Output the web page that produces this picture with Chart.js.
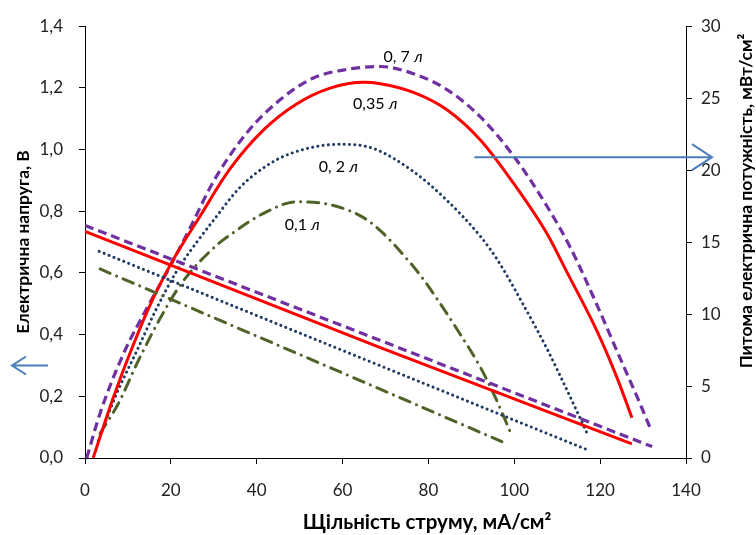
<!DOCTYPE html>
<html>
<head>
<meta charset="utf-8">
<script src="https://cdn.jsdelivr.net/npm/chart.js"></script>
<style>
  html, body { margin: 0; padding: 0; background: white; }
  canvas { display: block; }
</style>
</head>
<body>
<canvas id="chart" width="756" height="535"></canvas>
<script>
// напруга (ліва вісь), В
const iV07 = [0, 68.8, 132.1];
const uV07 = [0.754, 0.381, 0.037];
const iV035 = [0, 68.8, 127.4];
const uV035 = [0.735, 0.358, 0.046];
const iV02 = [3.3, 68.8, 116.6];
const uV02 = [0.670, 0.299, 0.029];
const iV01 = [3.5, 66.8, 97.1];
const uV01 = [0.613, 0.235, 0.053];

// питома потужність (права вісь), мВт/см2
const iP07 = [0.4, 3.5, 8.9, 14.4, 19.8, 24.5, 29.9, 37.7, 45.5, 53.2, 61.0, 68.8, 76.5, 84.3, 92.1, 99.8, 107.6, 113.1, 119.3, 124.7, 129.4, 131.9];
const pP07 = [0, 3.1, 7.2, 10.4, 13.3, 16.0, 19.2, 22.6, 24.9, 26.4, 27.0, 27.2, 26.7, 25.6, 23.7, 21.0, 17.5, 14.6, 10.6, 6.9, 3.7, 1.9];
const iP035 = [1.9, 6.6, 11.3, 15.9, 20.6, 26.8, 33.8, 41.6, 49.3, 57.1, 64.9, 68.8, 76.5, 84.3, 92.1, 99.8, 107.6, 112.3, 119.3, 123.9, 127.4];
const pP035 = [0, 4.2, 7.9, 11.1, 13.8, 16.8, 20.1, 22.8, 24.6, 25.7, 26.1, 26.0, 25.4, 24.2, 22.1, 19.1, 15.6, 12.9, 8.8, 5.6, 2.8];
const iP02 = [3.1, 7.4, 12.0, 16.7, 21.4, 26.8, 29.9, 36.1, 43.9, 51.7, 59.4, 67.2, 76.5, 84.3, 92.1, 96.0, 102.2, 107.6, 112.3, 117.3];
const pP02 = [1.2, 4.5, 7.4, 10.4, 13.0, 15.3, 16.5, 18.8, 20.6, 21.5, 21.8, 21.5, 19.9, 17.9, 15.4, 13.8, 10.6, 7.6, 4.7, 1.5];
const iP01 = [3.5, 7.8, 12.0, 17.5, 22.9, 31.1, 33.8, 41.6, 49.3, 57.1, 64.9, 69.5, 72.7, 78.1, 82.8, 87.4, 92.1, 95.6, 99.5];
const pP01 = [1.7, 3.8, 6.5, 9.7, 12.3, 14.9, 15.5, 17.0, 17.8, 17.6, 16.7, 15.6, 14.6, 12.7, 10.7, 8.6, 6.3, 4.2, 1.5];

const curveLabels = ['0, 7 ', '0,35 ', '0, 2 ', '0,1 '];
const labelI = [74.1, 67.6, 59.0, 50.6];
const labelP = [27.9, 24.6, 20.2, 16.2];

const xTicks = [0, 20, 40, 60, 80, 100, 120, 140];

const PURPLE = '#7030A0', RED = '#FF0000', NAVY = '#1F3B63', OLIVE = '#4F6228', ARROW = '#4A7EBB';
const FONT = 'Lato, "Open Sans", sans-serif';

const pts = (xs, ys) => xs.map((x, k) => ({x, y: ys[k]}));

const styles = {
  p07: {borderColor: PURPLE, borderWidth: 3.2, borderDash: [9, 5]},
  p035: {borderColor: RED, borderWidth: 3},
  p02: {borderColor: NAVY, borderWidth: 3, borderDash: [0.1, 5.2], borderCapStyle: 'round'},
  p01: {borderColor: OLIVE, borderWidth: 3, borderDash: [11, 7, 0.1, 7], borderCapStyle: 'round'}
};

function ds(data, axis, st) {
  return Object.assign({data, yAxisID: axis, showLine: true, pointRadius: 0,
    cubicInterpolationMode: 'monotone', fill: false}, st);
}

// підбирає розмір шрифту під потрібну ширину підпису
function fitFont(ctx, text, width, weight) {
  ctx.font = weight + ' 20px ' + FONT;
  const size = 20 * width / ctx.measureText(text).width;
  ctx.font = weight + ' ' + size.toFixed(1) + 'px ' + FONT;
}

const decorations = {
  id: 'decorations',
  afterDatasetsDraw(chart) {
    const {ctx, chartArea: a, scales: {x, y, y1}} = chart;
    ctx.save();
    // підписи кривих
    ctx.fillStyle = '#000';
    ctx.textBaseline = 'middle';
    curveLabels.forEach((t, k) => {
      const px = x.getPixelForValue(labelI[k]);
      const py = y1.getPixelForValue(labelP[k]);
      ctx.font = '16px ' + FONT;
      const w1 = ctx.measureText(t).width;
      ctx.font = 'italic 16px ' + FONT;
      const w2 = ctx.measureText('л').width;
      let sx = px - (w1 + w2) / 2;
      ctx.font = '16px ' + FONT;
      ctx.fillText(t, sx, py);
      ctx.font = 'italic 16px ' + FONT;
      ctx.fillText('л', sx + w1, py);
    });

    // стрілки
    ctx.strokeStyle = ARROW;
    ctx.lineWidth = 2;
    const ry = y1.getPixelForValue(20.9);
    const rx0 = x.getPixelForValue(90.7);
    const rx1 = a.right + 26;
    ctx.beginPath();
    ctx.moveTo(rx0, ry); ctx.lineTo(rx1, ry);
    ctx.moveTo(rx1 - 20, ry - 13); ctx.lineTo(rx1, ry); ctx.lineTo(rx1 - 20, ry + 13);
    ctx.stroke();
    const ly = y.getPixelForValue(0.3);
    const lx0 = 12, lx1 = 48;
    ctx.beginPath();
    ctx.moveTo(lx1, ly); ctx.lineTo(lx0, ly);
    ctx.moveTo(lx0 + 14, ly - 9); ctx.lineTo(lx0, ly); ctx.lineTo(lx0 + 14, ly + 9);
    ctx.stroke();

    // назви осей
    ctx.fillStyle = '#000';
    ctx.textAlign = 'center';
    ctx.textBaseline = 'middle';
    let t = 'Щільність струму, мА/см²';
    fitFont(ctx, t, 248, 'bold');
    ctx.fillText(t, 427, 522);
    ctx.save();
    ctx.translate(23, 242);
    ctx.rotate(-Math.PI / 2);
    t = 'Електрична напруга, В';
    fitFont(ctx, t, 183, 'bold');
    ctx.fillText(t, 0, 0);
    ctx.restore();
    ctx.save();
    ctx.translate(746, 201);
    ctx.rotate(-Math.PI / 2);
    t = 'Питома електрична потужність, мВт/см²';
    fitFont(ctx, t, 334, 'bold');
    ctx.fillText(t, 0, 0);
    ctx.restore();
    ctx.restore();
  }
};

const comma1 = v => Number(v).toFixed(1).replace('.', ',');

new Chart(document.getElementById('chart'), {
  type: 'scatter',
  data: {
    datasets: [
      ds(pts(iV035, uV035), 'y', styles.p035),
      ds(pts(iV07, uV07), 'y', styles.p07),
      ds(pts(iV02, uV02), 'y', styles.p02),
      ds(pts(iV01, uV01), 'y', styles.p01),
      ds(pts(iP035, pP035), 'y1', styles.p035),
      ds(pts(iP07, pP07), 'y1', styles.p07),
      ds(pts(iP02, pP02), 'y1', styles.p02),
      ds(pts(iP01, pP01), 'y1', styles.p01)
    ]
  },
  options: {
    responsive: false,
    animation: false,
    layout: {padding: {top: 22, right: 0, left: 0, bottom: 0}},
    plugins: {legend: {display: false}, tooltip: {enabled: false}},
    scales: {
      x: {
        type: 'linear', min: 0, max: 140,
        afterBuildTicks: s => { s.ticks = xTicks.map(v => ({value: v})); },
        afterFit: s => { s.height = 77; },
        grid: {drawOnChartArea: false, drawTicks: true, tickLength: 6, color: '#000'},
        border: {color: '#000', width: 1},
        ticks: {color: '#222', font: {family: FONT, size: 17}, padding: 16}
      },
      y: {
        position: 'left', min: 0, max: 1.4,
        afterFit: s => { s.width = 85; },
        grid: {drawOnChartArea: false, drawTicks: true, tickLength: 6, color: '#000'},
        border: {color: '#000', width: 1},
        ticks: {stepSize: 0.2, color: '#222', font: {family: FONT, size: 17}, padding: 16, callback: comma1}
      },
      y1: {
        position: 'right', min: 0, max: 30,
        afterFit: s => { s.width = 70; },
        grid: {drawOnChartArea: false, drawTicks: true, tickLength: 6, color: '#000'},
        border: {color: '#000', width: 1},
        ticks: {stepSize: 5, color: '#222', font: {family: FONT, size: 17}, padding: 9}
      }
    }
  },
  plugins: [decorations]
});
</script>
</body>
</html>
